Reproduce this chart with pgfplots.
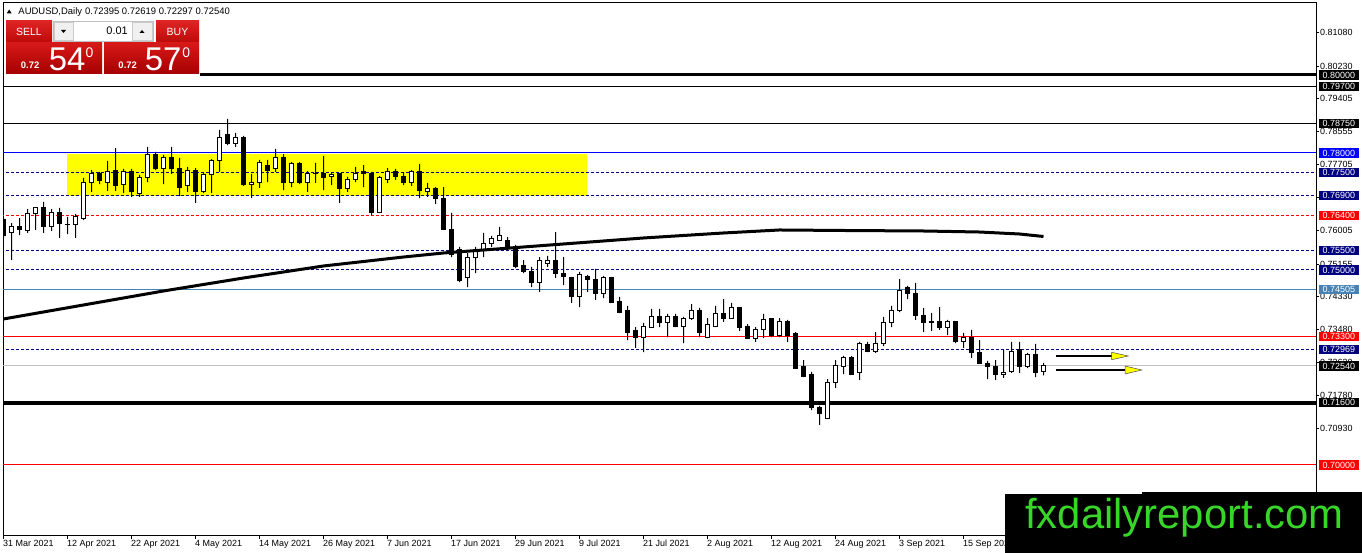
\documentclass[border=0pt]{standalone}
\usepackage{pgfplots}
\pgfplotsset{compat=1.18}
\usepackage{pgfplotstable}
\usepackage{fontspec}
\setmainfont{Liberation Sans}
\newcommand\fs[1]{\fontsize{#1}{#1}\selectfont}
\definecolor{mtnavy}{RGB}{0,0,128}
\definecolor{mtblue}{RGB}{0,0,255}
\definecolor{mtred}{RGB}{255,0,0}
\definecolor{mtsteel}{RGB}{70,130,180}
\definecolor{mtgrey}{RGB}{192,192,192}
\definecolor{mtyellow}{RGB}{255,255,0}
\definecolor{wmgreen}{RGB}{56,214,40}
\definecolor{btnred}{RGB}{222,36,36}
\definecolor{btnreddark}{RGB}{190,10,10}
\definecolor{panred}{RGB}{214,24,24}
\definecolor{panreddark}{RGB}{165,0,0}

\pgfplotstableread{
i O H L C
0 0.76282 0.76333 0.75821 0.75897
1 0.75949 0.76205 0.75256 0.76128
2 0.76128 0.76333 0.75897 0.76051
3 0.76000 0.76564 0.75949 0.76436
4 0.76436 0.76615 0.76026 0.76590
5 0.76590 0.76744 0.75949 0.76103
6 0.76103 0.76564 0.76000 0.76487
7 0.76487 0.76590 0.75821 0.76205
8 0.76179 0.76359 0.75923 0.76166
9 0.76179 0.76436 0.75821 0.76359
10 0.76333 0.77359 0.76282 0.77231
11 0.77231 0.77564 0.77000 0.77487
12 0.77487 0.77513 0.77205 0.77282
13 0.77256 0.77795 0.77026 0.77513
14 0.77564 0.78128 0.77026 0.77179
15 0.77205 0.77590 0.76974 0.77513
16 0.77513 0.77590 0.76872 0.77000
17 0.76974 0.77436 0.76872 0.77359
18 0.77359 0.78154 0.77256 0.77949
19 0.77949 0.78026 0.77564 0.77590
20 0.77615 0.77949 0.77205 0.77872
21 0.77872 0.78154 0.77462 0.77590
22 0.77615 0.77872 0.76897 0.77128
23 0.77179 0.77641 0.77000 0.77564
24 0.77564 0.77615 0.76718 0.77000
25 0.77000 0.77487 0.76974 0.77436
26 0.77436 0.77846 0.76974 0.77795
27 0.77795 0.78590 0.77513 0.78410
28 0.78462 0.78872 0.78205 0.78256
29 0.78256 0.78513 0.78154 0.78385
30 0.78385 0.78436 0.77154 0.77205
31 0.77205 0.77462 0.76846 0.77256
32 0.77256 0.77821 0.77103 0.77769
33 0.77692 0.77821 0.77256 0.77564
34 0.77590 0.78103 0.77513 0.77897
35 0.77897 0.77974 0.77051 0.77231
36 0.77231 0.77769 0.77128 0.77718
37 0.77718 0.77769 0.77205 0.77231
38 0.77256 0.77538 0.77000 0.77487
39 0.77487 0.77744 0.77231 0.77474
40 0.77462 0.77923 0.77051 0.77359
41 0.77385 0.77487 0.77179 0.77436
42 0.77462 0.77487 0.76718 0.77077
43 0.77077 0.77385 0.77000 0.77308
44 0.77308 0.77641 0.77256 0.77487
45 0.77513 0.77692 0.77128 0.77462
46 0.77487 0.77513 0.76410 0.76462
47 0.76487 0.77410 0.76462 0.77359
48 0.77333 0.77615 0.77231 0.77513
49 0.77513 0.77590 0.77308 0.77385
50 0.77385 0.77487 0.77179 0.77256
51 0.77256 0.77564 0.77154 0.77513
52 0.77513 0.77718 0.76846 0.77026
53 0.77000 0.77231 0.76872 0.77077
54 0.77077 0.77128 0.76692 0.76846
55 0.76846 0.77128 0.76026 0.76051
56 0.76051 0.76462 0.75333 0.75385
57 0.75538 0.75590 0.74692 0.74718
58 0.74795 0.75436 0.74564 0.75308
59 0.75308 0.75590 0.74923 0.75462
60 0.75513 0.75949 0.75333 0.75692
61 0.75692 0.75872 0.75590 0.75795
62 0.75769 0.76103 0.75744 0.75897
63 0.75769 0.75846 0.75513 0.75590
64 0.75615 0.75641 0.75051 0.75077
65 0.75103 0.75256 0.74923 0.74949
66 0.74974 0.75077 0.74564 0.74667
67 0.74667 0.75333 0.74436 0.75256
68 0.75179 0.75359 0.75077 0.75256
69 0.75256 0.75974 0.74795 0.74923
70 0.74923 0.75333 0.74615 0.74821
71 0.74795 0.74821 0.74154 0.74308
72 0.74308 0.74949 0.74051 0.74897
73 0.74821 0.74872 0.74436 0.74744
74 0.74769 0.75026 0.74231 0.74410
75 0.74410 0.74846 0.74282 0.74795
76 0.74795 0.74821 0.74154 0.74179
77 0.74205 0.74308 0.73897 0.73923
78 0.73974 0.74077 0.73205 0.73410
79 0.73436 0.73538 0.73000 0.73282
80 0.73282 0.73641 0.72897 0.73564
81 0.73538 0.74000 0.73513 0.73795
82 0.73795 0.74000 0.73538 0.73641
83 0.73641 0.73872 0.73282 0.73795
84 0.73795 0.73872 0.73538 0.73564
85 0.73564 0.73795 0.73128 0.73744
86 0.73744 0.74128 0.73718 0.73949
87 0.73949 0.74026 0.73282 0.73410
88 0.73282 0.73769 0.73256 0.73590
89 0.73564 0.74077 0.73538 0.73897
90 0.73897 0.74256 0.73667 0.73769
91 0.73769 0.74154 0.73744 0.74026
92 0.74026 0.74051 0.73436 0.73513
93 0.73564 0.73615 0.73231 0.73256
94 0.73256 0.73538 0.73154 0.73487
95 0.73487 0.73872 0.73256 0.73718
96 0.73744 0.73769 0.73282 0.73308
97 0.73308 0.73769 0.73282 0.73692
98 0.73667 0.73718 0.73154 0.73333
99 0.73359 0.73410 0.72462 0.72487
100 0.72513 0.72692 0.72256 0.72282
101 0.72308 0.72385 0.71410 0.71462
102 0.71462 0.71513 0.71026 0.71333
103 0.71205 0.72205 0.71179 0.72103
104 0.72103 0.72692 0.71974 0.72564
105 0.72538 0.72795 0.72333 0.72744
106 0.72744 0.72795 0.72308 0.72333
107 0.72359 0.73154 0.72179 0.73103
108 0.73077 0.73154 0.72897 0.72923
109 0.72923 0.73410 0.72872 0.73128
110 0.73128 0.73795 0.73051 0.73641
111 0.73641 0.74077 0.73538 0.73949
112 0.73949 0.74769 0.73923 0.74462
113 0.74564 0.74590 0.74256 0.74385
114 0.74385 0.74667 0.73718 0.73821
115 0.73821 0.74026 0.73410 0.73641
116 0.73667 0.73897 0.73436 0.73641
117 0.73667 0.74051 0.73462 0.73513
118 0.73538 0.73718 0.73333 0.73667
119 0.73667 0.73692 0.73128 0.73154
120 0.73154 0.73385 0.73000 0.73282
121 0.73282 0.73462 0.72744 0.72872
122 0.72897 0.73205 0.72590 0.72615
123 0.72615 0.72667 0.72205 0.72513
124 0.72513 0.72692 0.72179 0.72308
125 0.72308 0.72949 0.72231 0.72359
126 0.72385 0.73154 0.72359 0.72923
127 0.72949 0.73154 0.72359 0.72513
128 0.72513 0.72872 0.72487 0.72846
129 0.72846 0.73103 0.72256 0.72359
130 0.72395 0.72619 0.72297 0.72540
}\candles

\pgfplotsset{
  chartgeom/.style={at={(3bp,17bp)}, anchor=south west, width=1313bp, height=533bp,
    scale only axis, xmin=-0.0625, xmax=164.0625, ymin=0.681795, ymax=0.818462,
    enlargelimits=false},
}
\tikzset{
  hline/.style={line width=1bp},
  mtdash/.style={dash pattern=on 3bp off 2bp},
  lvl/.style={anchor=west, inner xsep=3.5bp, inner ysep=1.3bp, text height=6.4bp,
    text depth=0.2bp, font=\fs{9}, text=white, xshift=3bp},
}

\begin{document}
\begin{tikzpicture}
\useasboundingbox (0,0) rectangle (1362bp,553bp);
\fill[white] (0,0) rectangle (1362bp,553bp);

% ---------- main axis: frame, ticks, zones, levels ----------
\begin{axis}[chartgeom,
  axis line style={black, line width=1bp},
  xtick={0,8,...,120},
  xticklabels={31 Mar 2021,12 Apr 2021,22 Apr 2021,4 May 2021,14 May 2021,26 May 2021,7 Jun 2021,17 Jun 2021,29 Jun 2021,9 Jul 2021,21 Jul 2021,2 Aug 2021,12 Aug 2021,24 Aug 2021,3 Sep 2021,15 Sep 2021},
  ytick={0.81080,0.80230,0.79405,0.78555,0.77705,0.76855,0.76005,0.75155,0.74330,0.73480,0.72630,0.71780,0.70930},
  yticklabels={0.81080,0.80230,0.79405,0.78555,0.77705,0.76855,0.76005,0.75155,0.74330,0.73480,0.72630,0.71780,0.70930},
  xtick pos=bottom, ytick pos=right, yticklabel pos=right,
  tick align=outside, major tick length=3bp,
  tick style={black, line width=0.8bp},
  xticklabel style={anchor=north west, inner sep=0pt, font=\fs{9}, yshift=-1bp, xshift=-0.5bp},
  yticklabel style={anchor=west, inner sep=0pt, font=\fs{9}, xshift=1bp},
]
\addplot[fill=mtyellow, draw=none] coordinates {(7.94,0.76900) (72.94,0.76900) (72.94,0.77975) (7.94,0.77975) (7.94,0.76900)};
\addplot[black, line width=3bp] coordinates {(-1,0.80000) (170,0.80000)};
\addplot[black, hline] coordinates {(-1,0.79700) (170,0.79700)};
\addplot[black, hline] coordinates {(-1,0.78750) (170,0.78750)};
\addplot[mtblue, hline] coordinates {(-1,0.78000) (170,0.78000)};
\addplot[mtnavy, hline, mtdash] coordinates {(-1,0.77500) (170,0.77500)};
\addplot[mtnavy, hline, mtdash] coordinates {(-1,0.76900) (170,0.76900)};
\addplot[mtred, hline, mtdash] coordinates {(-1,0.76400) (170,0.76400)};
\addplot[mtnavy, hline, mtdash] coordinates {(-1,0.75500) (170,0.75500)};
\addplot[mtnavy, hline, mtdash] coordinates {(-1,0.75000) (170,0.75000)};
\addplot[mtsteel, hline] coordinates {(-1,0.74505) (170,0.74505)};
\addplot[mtred, hline] coordinates {(-1,0.73300) (170,0.73300)};
\addplot[mtnavy, hline, mtdash] coordinates {(-1,0.72969) (170,0.72969)};
\addplot[mtgrey, hline] coordinates {(-1,0.72540) (170,0.72540)};
\addplot[black, line width=4bp] coordinates {(-1,0.71600) (170,0.71600)};
\addplot[mtred, hline] coordinates {(-1,0.70000) (170,0.70000)};
\end{axis}

% ---------- wicks ----------
\begin{axis}[chartgeom, hide axis, ybar stacked, bar width=1bp]
\addplot[draw=none, fill=none] table[x=i, y=L] {\candles};
\addplot[draw=none, fill=black] table[x=i, y expr=\thisrow{H}-\thisrow{L}] {\candles};
\end{axis}

% ---------- bodies ----------
\begin{axis}[chartgeom, hide axis, ybar stacked, bar width=4bp]
\addplot[draw=none, fill=none] table[x=i, y expr={min(\thisrow{O},\thisrow{C})}] {\candles};
\addplot[draw=black, fill=white, line width=1bp] table[x=i, y expr={max(\thisrow{C}-\thisrow{O},0)}] {\candles};
\addplot[draw=black, fill=black, line width=1bp] table[x=i, y expr={max(\thisrow{O}-\thisrow{C},0)}] {\candles};
\end{axis}

% ---------- moving average, arrows, level labels ----------
\begin{axis}[chartgeom, hide axis, clip=false]
\addplot[black, line width=3bp] coordinates {
(0,0.73744) (10,0.74103) (20,0.74462) (30,0.74795) (40,0.75103) (50,0.75333)
(55,0.75436) (60,0.75513) (65,0.75590) (70,0.75667) (80,0.75821) (90,0.75949)
(97,0.76026) (105,0.76013) (115,0.76000) (122,0.75974) (127,0.75923) (130,0.75859)};
\addplot[black, line width=2bp] coordinates {(131.56,0.72795) (138.6,0.72795)};
\addplot[fill=mtyellow, draw=black!70, line width=0.5bp] coordinates {(138.52,0.72890) (140.6,0.72795) (138.52,0.72700) (138.52,0.72890)};
\addplot[black, line width=2bp] coordinates {(131.56,0.72436) (140.3,0.72436)};
\addplot[fill=mtyellow, draw=black!70, line width=0.5bp] coordinates {(140.19,0.72538) (142.28,0.72436) (140.19,0.72333) (140.19,0.72538)};

\node[lvl, fill=black]   at (axis cs:164.0625,0.80000) {0.80000};
\node[lvl, fill=black]   at (axis cs:164.0625,0.79700) {0.79700};
\node[lvl, fill=black]   at (axis cs:164.0625,0.78750) {0.78750};
\node[lvl, fill=mtblue]  at (axis cs:164.0625,0.78000) {0.78000};
\node[lvl, fill=mtnavy]  at (axis cs:164.0625,0.77500) {0.77500};
\node[lvl, fill=mtnavy]  at (axis cs:164.0625,0.76900) {0.76900};
\node[lvl, fill=mtred]   at (axis cs:164.0625,0.76400) {0.76400};
\node[lvl, fill=mtnavy]  at (axis cs:164.0625,0.75500) {0.75500};
\node[lvl, fill=mtnavy]  at (axis cs:164.0625,0.75000) {0.75000};
\node[lvl, fill=mtsteel] at (axis cs:164.0625,0.74505) {0.74505};
\node[lvl, fill=mtred]   at (axis cs:164.0625,0.73300) {0.73300};
\node[lvl, fill=mtnavy]  at (axis cs:164.0625,0.72969) {0.72969};
\node[lvl, fill=black]   at (axis cs:164.0625,0.72540) {0.72540};
\node[lvl, fill=black]   at (axis cs:164.0625,0.71600) {0.71600};
\node[lvl, fill=mtred]   at (axis cs:164.0625,0.70000) {0.70000};
\end{axis}

% ---------- overlays: title, trade panel, watermark ----------
\begin{scope}[x=1bp, y=1bp]
\fill[black] (6.7,539.5) -- (11.7,539.5) -- (9.2,543.5) -- cycle;
\node[anchor=base west, inner sep=0pt, font=\fs{9.5}] at (18.3,538) {AUDUSD,Daily\hspace{3bp}0.72395 0.72619 0.72297 0.72540};

\fill[white] (4,474) rectangle (200,536);
% SELL / BUY buttons
\shade[top color=btnred, bottom color=btnreddark] (6,511) rectangle (52,532);
\node[font=\fs{10.5}, text=white, inner sep=0pt] at (29,521.5) {SELL};
\shade[top color=btnred, bottom color=btnreddark] (156,511) rectangle (199,532);
\node[font=\fs{10.5}, text=white, inner sep=0pt] at (177.5,521.5) {BUY};
% lot spinner
\draw[black!25, fill=white] (53,512) rectangle (153,532);
\draw[black!20, fill=black!6] (54,513) rectangle (73,531);
\draw[black!20, fill=black!6] (132,513) rectangle (152,531);
\fill[black] (61,523) -- (66,523) -- (63.5,520) -- cycle;
\fill[black] (139.5,520) -- (144.5,520) -- (142,523) -- cycle;
\node[anchor=base east, inner sep=0pt, font=\fs{11}] at (128,518) {0.01};
% price panels
\shade[top color=panred, bottom color=panreddark] (6,479) rectangle (102,510);
\shade[top color=panred, bottom color=panreddark] (104,479) rectangle (199,510);
\node[anchor=base west, inner sep=0pt, font=\fs{9.5}\bfseries, text=white] at (20.7,484.5) {0.72};
\node[anchor=base west, inner sep=0pt, font=\fs{33}, text=white] at (48.7,482) {54};
\node[anchor=base west, inner sep=0pt, font=\fs{14}, text=white] at (85.5,495) {0};
\node[anchor=base west, inner sep=0pt, font=\fs{9.5}\bfseries, text=white] at (118.3,484.5) {0.72};
\node[anchor=base west, inner sep=0pt, font=\fs{33}, text=white] at (144.7,482) {57};
\node[anchor=base west, inner sep=0pt, font=\fs{14}, text=white] at (182.2,495) {0};

% watermark
\fill[black] (1005,0) rectangle (1362,59);
\fill[black] (1142,59) rectangle (1362,61);
\node[anchor=base, inner sep=0pt, font=\fs{42}, text=wmgreen] at (1184.5,25) {fxdailyreport.com};
\end{scope}
\end{tikzpicture}
\end{document}
